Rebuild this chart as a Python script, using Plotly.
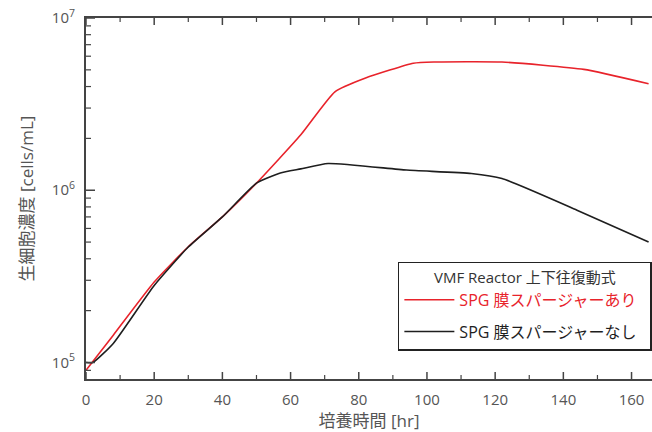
import plotly.graph_objects as go

# Data
hours_with = [0, 8, 20, 30, 40, 50, 63, 73, 82, 96, 102, 122, 146, 165]
cells_with = [9.0e4, 1.44e5, 2.93e5, 4.7e5, 7.0e5, 1.1e6, 2.1e6, 3.73e6, 4.48e6,
              5.46e6, 5.55e6, 5.55e6, 5.03e6, 4.15e6]

hours_without = [0, 2, 8, 20, 30, 40, 50, 57, 63, 71, 94, 113, 122, 144, 165]
cells_without = [1.0e5, 1.0e5, 1.29e5, 2.8e5, 4.68e5, 7.0e5, 1.1e6, 1.26e6, 1.33e6,
                 1.43e6, 1.31e6, 1.25e6, 1.17e6, 7.66e5, 5.0e5]

y_tickvals = [1e5, 1e6, 1e7]
y_ticktext = ["10<sup>5</sup>", "10<sup>6</sup>", "10<sup>7</sup>"]
y_minor_vals = [9e4] + [k * 1e5 for k in range(2, 10)] + [k * 1e6 for k in range(2, 10)]
x_tickvals = [0, 20, 40, 60, 80, 100, 120, 140, 160]
x_minor_vals = [10, 30, 50, 70, 90, 110, 130, 150]

name_with = "SPG 膜スパージャーあり"
name_without = "SPG 膜スパージャーなし"
legend_title = "VMF Reactor 上下往復動式"

RED = "#e8232b"
BLACK = "#1e1e1e"
GRAY = "#555555"
AX = "#444444"
FONT = "Open Sans, Noto Sans CJK JP, sans-serif"
X_RANGE = [0, 166]
Y_RANGE = [4.904, 7.0]
W, H = 652, 432
M = dict(l=86, r=0, t=18, b=53)
PLOT_W = W - M["l"] - M["r"]
PLOT_H = H - M["t"] - M["b"]

fig = go.Figure()
fig.add_trace(go.Scatter(
    x=hours_with, y=cells_with, mode="lines", legendgroup="a",
    name=f"<span style='color:{RED}'>{name_with}</span>&nbsp;&nbsp;",
    line=dict(color=RED, width=1.6, shape="spline", smoothing=0.5),
))
fig.add_trace(go.Scatter(
    x=hours_without, y=cells_without, mode="lines", legendgroup="b",
    name=f"<span style='color:{BLACK}'>{name_without}</span>&nbsp;&nbsp;",
    line=dict(color=BLACK, width=1.6, shape="spline", smoothing=0.5),
))

# Tick marks (inside) drawn as shapes at the tick values
def ytick(v, length, width):
    fig.add_shape(type="line", xref="x domain", yref="y", x0=0, x1=length / PLOT_W,
                  y0=v, y1=v, line=dict(color=AX, width=width), layer="above")

def xtick(v, length, width):
    for base, sign in ((0, 1), (1, -1)):
        fig.add_shape(type="line", xref="x", yref="y domain", x0=v, x1=v,
                      y0=base, y1=base + sign * length / PLOT_H,
                      line=dict(color=AX, width=width), layer="above")

for v in y_tickvals:
    ytick(v, 9, 1.5)
for v in y_minor_vals:
    ytick(v, 5, 1.2)
for v in x_tickvals:
    xtick(v, 7, 1.5)
for v in x_minor_vals:
    xtick(v, 4, 1.2)

fig.update_layout(
    width=W, height=H,
    margin=dict(**M, autoexpand=False),
    plot_bgcolor="white", paper_bgcolor="white",
    font=dict(family=FONT, color=GRAY, size=15),
    showlegend=True,
    legend=dict(
        x=0.551, y=0.3245, xanchor="left", yanchor="top",
        bgcolor="white", bordercolor="#222222", borderwidth=1.5,
        font=dict(family=FONT, size=16, color=BLACK),
        title=dict(text=legend_title, side="top center",
                   font=dict(family=FONT, size=15, color="#333333")),
        itemwidth=50,
        tracegroupgap=8,
    ),
    xaxis=dict(
        range=X_RANGE, tickmode="array", tickvals=x_tickvals, ticks="",
        ticklabelstandoff=6,
        showline=True, linecolor=AX, linewidth=2, mirror=True,
        showgrid=False, zeroline=False, automargin=False,
        tickfont=dict(size=15, color=GRAY),
        title=dict(text="培養時間 [hr]", font=dict(size=17, color=GRAY), standoff=10),
    ),
    yaxis=dict(
        type="log", range=Y_RANGE, tickmode="array",
        tickvals=y_tickvals, ticktext=y_ticktext, ticks="",
        ticklabelstandoff=6,
        showline=True, linecolor=AX, linewidth=2,
        showgrid=False, zeroline=False, automargin=False,
        tickfont=dict(size=15, color=GRAY),
        title=dict(text="生細胞濃度 [cells/mL]", font=dict(size=17, color=GRAY), standoff=14),
    ),
)

fig.write_html("out.html", config={"displayModeBar": False},
               post_script="document.body.style.margin='0';document.body.style.overflow='hidden';")
